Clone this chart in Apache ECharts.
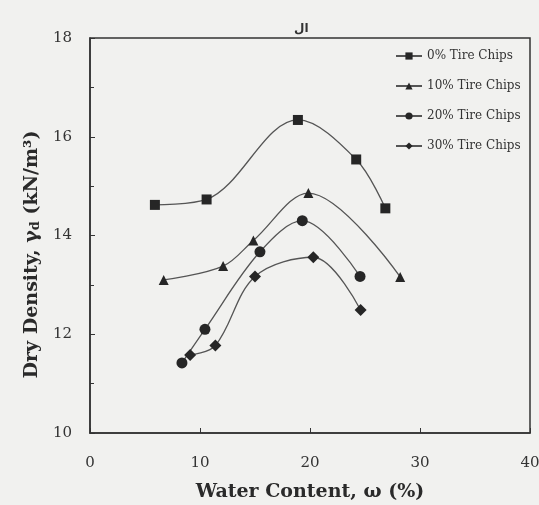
<!DOCTYPE html>
<html>
<head>
<meta charset="utf-8">
<script src="https://cdn.jsdelivr.net/npm/echarts@6/dist/echarts.min.js"></script>
<style>
  html, body { margin: 0; padding: 0; background: #f1f1ef; }
  #chart { width: 539px; height: 505px; }
</style>
</head>
<body>
<div id="chart"></div>
<script>
// water content (%) and dry density (kN/m3)
var names = ['0% Tire Chips', '10% Tire Chips', '20% Tire Chips', '30% Tire Chips'];
var symbols = ['rect', 'triangle', 'circle', 'diamond'];
var symbolSizes = [10, 10, 11, 12];

var w0 = [5.9, 10.6, 18.9, 24.2, 26.85];
var d0 = [14.62, 14.73, 16.34, 15.54, 14.55];

var w10 = [6.7, 12.1, 14.85, 19.85, 28.2];
var d10 = [13.1, 13.38, 13.9, 14.86, 13.16];

var w20 = [8.36, 10.45, 15.45, 19.3, 24.55];
var d20 = [11.42, 12.1, 13.67, 14.3, 13.17];

var w30 = [9.1, 11.4, 15.0, 20.3, 24.6];
var d30 = [11.58, 11.77, 13.17, 13.56, 12.49];

var xTicks = [0, 10, 20, 30, 40];
var yTicks = [10, 12, 14, 16, 18];

var waters = [w0, w10, w20, w30];
var dens = [d0, d10, d20, d30];

var serif = '"DejaVu Serif", "Liberation Serif", serif';

var series = [];
for (var i = 0; i < names.length; i++) {
    var pts = [];
    for (var k = 0; k < waters[i].length; k++) {
        pts.push([waters[i][k], dens[i][k]]);
    }
    series.push({
        name: names[i],
        type: 'line',
        smooth: 0.35,
        symbol: symbols[i],
        symbolSize: symbolSizes[i],
        itemStyle: { color: '#262626' },
        lineStyle: { color: '#555', width: 1.3 },
        data: pts
    });
}

var option = {
    backgroundColor: '#f1f1ef',
    animation: false,
    title: {
        text: 'ال',
        left: 289,
        top: 18,
        textStyle: { fontSize: 12, fontWeight: 'bold', color: '#333', fontFamily: 'DejaVu Sans' }
    },
    legend: {
        orient: 'vertical',
        left: 390,
        top: 45,
        itemWidth: 26,
        itemHeight: 9,
        itemGap: 18,
        data: names,
        textStyle: { fontFamily: serif, fontSize: 12, color: '#333' }
    },
    grid: {
        left: 90, right: 9, top: 38, bottom: 72,
        outerBoundsMode: 'none',
        show: true, borderColor: '#333', borderWidth: 1.5, backgroundColor: 'transparent'
    },
    xAxis: {
        type: 'value',
        min: xTicks[0],
        max: xTicks[xTicks.length - 1],
        interval: 10,
        name: 'Water Content, ω (%)',
        nameLocation: 'middle',
        nameGap: 50,
        nameTextStyle: { fontFamily: serif, fontSize: 19, fontWeight: 'bold', color: '#2a2a2a' },
        axisLine: { lineStyle: { color: '#333', width: 1.5 } },
        axisTick: { inside: true, length: 5, lineStyle: { color: '#333' } },
        axisLabel: { margin: 23, fontFamily: serif, fontSize: 15, color: '#333' },
        splitLine: { show: false }
    },
    yAxis: {
        type: 'value',
        min: yTicks[0],
        max: yTicks[yTicks.length - 1],
        interval: 2,
        name: '{a|Dry Density, γ}{s|d}{a| (kN/m³)}',
        nameLocation: 'middle',
        nameGap: 33,
        nameTextStyle: {
            padding: [0, 38, 0, 0],
            rich: {
                a: { fontFamily: serif, fontSize: 19, fontWeight: 'bold', color: '#2a2a2a' },
                s: { fontFamily: serif, fontSize: 13, fontWeight: 'bold', color: '#2a2a2a', verticalAlign: 'bottom', padding: [7, 0, 0, 0] }
            }
        },
        axisLine: { lineStyle: { color: '#333', width: 1.5 } },
        axisTick: { inside: true, length: 5, lineStyle: { color: '#333' } },
        minorTick: { show: true, splitNumber: 2, length: 4, lineStyle: { color: '#333' } },
        axisLabel: { margin: 18, fontFamily: serif, fontSize: 15, color: '#333' },
        splitLine: { show: false }
    },
    series: series
};

var myChart = echarts.init(document.getElementById('chart'));
myChart.setOption(option);
</script>
</body>
</html>
